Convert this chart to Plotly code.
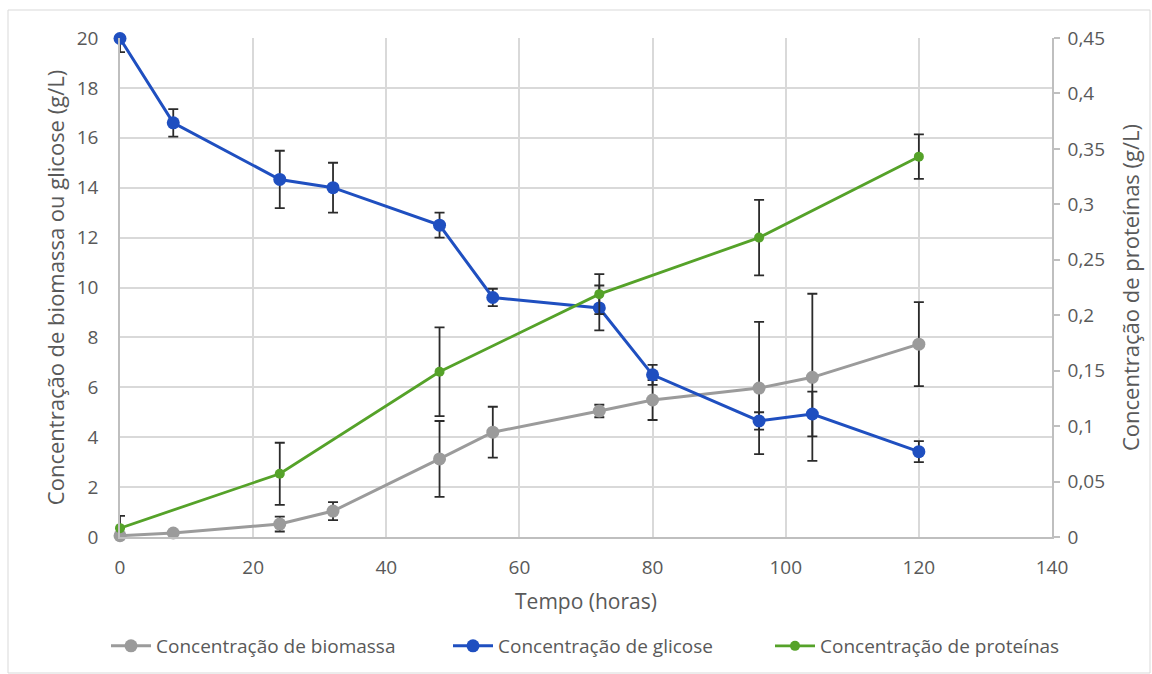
import plotly.graph_objects as go

# ---- data ----
tempo = [0, 8, 24, 32, 48, 56, 72, 80, 96, 104, 120]
biomassa = [0.05, 0.16, 0.52, 1.04, 3.13, 4.2, 5.05, 5.49, 5.97, 6.4, 7.73]
biomassa_err = [0.0, 0.0, 0.3, 0.36, 1.52, 1.02, 0.25, 0.8, 2.65, 3.35, 1.68]
glicose = [19.98, 16.6, 14.33, 14.0, 12.5, 9.6, 9.18, 6.5, 4.65, 4.93, 3.42]
glicose_err_plus = [0.0, 0.55, 1.15, 1.0, 0.5, 0.35, 0.9, 0.4, 0.35, 0.9, 0.42]
glicose_err_minus = [0.55, 0.55, 1.15, 1.0, 0.5, 0.35, 0.9, 0.4, 0.35, 0.9, 0.42]
tempo_prot = [0, 24, 48, 72, 96, 120]
proteinas = [0.008, 0.057, 0.149, 0.219, 0.27, 0.343]
proteinas_err_plus = [0.011, 0.028, 0.04, 0.018, 0.034, 0.02]
proteinas_err_minus = [0.0, 0.028, 0.04, 0.018, 0.034, 0.02]

names = ["Concentração de biomassa", "Concentração de glicose", "Concentração de proteínas"]
GREY = "#9B9B9B"
BLUE = "#1F4FC0"
GREEN = "#55A229"
ERR = "#2B2B2B"
TXT = "#595959"
FONT = "Open Sans"

fig = go.Figure()
fig.add_trace(go.Scatter(
    x=tempo, y=biomassa, name=names[0], mode="lines+markers", legend="legend",
    line=dict(color=GREY, width=3), marker=dict(color=GREY, size=13),
    error_y=dict(type="data", array=biomassa_err, color=ERR, thickness=1.8, width=5),
    cliponaxis=False))
fig.add_trace(go.Scatter(
    x=tempo, y=glicose, name=names[1], mode="lines+markers", legend="legend2",
    line=dict(color=BLUE, width=3), marker=dict(color=BLUE, size=13),
    error_y=dict(type="data", symmetric=False, array=glicose_err_plus,
                 arrayminus=glicose_err_minus, color=ERR, thickness=1.8, width=5),
    cliponaxis=False))
fig.add_trace(go.Scatter(
    x=tempo_prot, y=proteinas, name=names[2], mode="lines+markers", yaxis="y2",
    legend="legend3",
    line=dict(color=GREEN, width=2.8), marker=dict(color=GREEN, size=10),
    error_y=dict(type="data", symmetric=False, array=proteinas_err_plus,
                 arrayminus=proteinas_err_minus, color=ERR, thickness=1.8, width=5),
    cliponaxis=False))

grid = "#D9D9D9"
axline = "#BFBFBF"


def leg(xpix):
    return dict(orientation="h", x=xpix / 1152, xanchor="left", xref="container",
                y=(674 - 646) / 674, yanchor="middle", yref="container",
                font=dict(size=19, color=TXT), itemwidth=40, bgcolor="rgba(0,0,0,0)")


fig.update_layout(
    width=1152, height=674,
    margin=dict(l=120, r=100, t=38, b=137, autoexpand=False),
    paper_bgcolor="white", plot_bgcolor="white",
    separators=",.",
    font=dict(family=FONT, size=18, color=TXT),
    showlegend=True,
    legend=leg(106), legend2=leg(448), legend3=leg(770),
    xaxis=dict(range=[0, 140], dtick=20, tick0=0, showgrid=True, gridcolor=grid, gridwidth=1.5,
               showline=True, linecolor=axline, linewidth=1.5, zeroline=False, automargin=False,
               ticks="", ticklabelstandoff=12, tickfont=dict(size=19, color=TXT),
               title=dict(text="Tempo (horas)", font=dict(size=21, color=TXT), standoff=16)),
    yaxis=dict(range=[0, 20], dtick=2, tick0=0, showgrid=True, gridcolor=grid, gridwidth=1.5,
               showline=True, linecolor=axline, linewidth=1.5, zeroline=False, automargin=False,
               ticks="", ticklabelstandoff=16, tickfont=dict(size=19, color=TXT),
               title=dict(text="Concentração de biomassa ou glicose (g/L)",
                          font=dict(size=22, color=TXT), standoff=6)),
    yaxis2=dict(range=[0, 0.45], dtick=0.05, tick0=0, overlaying="y", side="right",
                showgrid=False, showline=True, linecolor=axline, linewidth=1.5, zeroline=False,
                automargin=False,
                ticks="outside", ticklen=6, tickcolor=axline, tickwidth=1.5,
                ticklabelstandoff=4, tickfont=dict(size=19, color=TXT),
                title=dict(text="Concentração de proteínas (g/L)",
                           font=dict(size=22, color=TXT), standoff=20)),
)

# outer chart border
pw, ph = 1152 - 120 - 100, 674 - 38 - 137
fig.add_shape(type="rect", xref="paper", yref="paper",
              x0=(8 - 120) / pw, x1=(1150 - 120) / pw,
              y0=(537 - 673) / ph, y1=(537 - 10) / ph,
              line=dict(color="#D9D9D9", width=1), fillcolor="rgba(0,0,0,0)", layer="below")

fig.write_html("out.html")
